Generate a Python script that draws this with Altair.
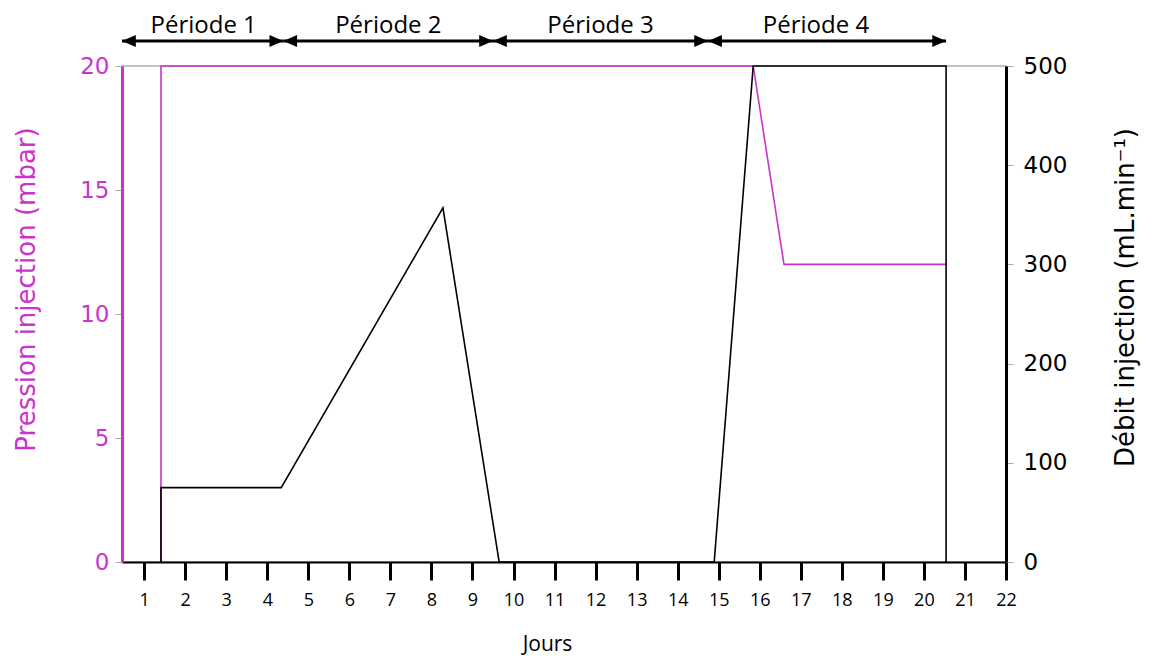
import altair as alt
import pandas as pd

# ---- data ----
days_p = [1.41, 1.41, 15.84, 16.59, 20.54]
pression = [0, 20, 20, 12, 12]

days_d = [1.41, 1.41, 4.34, 8.28, 9.65, 14.89, 15.84, 20.54, 20.54]
debit = [0, 75, 75, 357, 0, 0, 500, 500, 0]

periodes = ["Période 1", "Période 2", "Période 3", "Période 4"]
per_start = [0.46, 4.39, 9.50, 14.74]
per_end = [4.39, 9.50, 14.74, 20.54]
per_label_x = [2.45, 6.95, 12.12, 17.37]

x_ticks = list(range(1, 23))
x_domain = [0.46, 22]
p_ticks = [0, 5, 10, 15, 20]
d_ticks = [0, 100, 200, 300, 400, 500]

MAG = "#CC33CC"

dfp = pd.DataFrame({"jour": days_p, "p": pression, "i": range(len(days_p))})
dfd = pd.DataFrame({"jour": days_d, "d": debit, "i": range(len(days_d))})
dfper = pd.DataFrame({"nom": periodes, "start": per_start, "end": per_end, "lx": per_label_x})

xscale = alt.Scale(domain=x_domain, nice=False, zero=False)
xaxis = alt.Axis(values=x_ticks, title="Jours", grid=False, zindex=1,
                 domainColor="black", domainWidth=2,
                 tickColor="black", tickWidth=3, tickSize=18,
                 labelFont="Open Sans", labelFontSize=18, labelColor="black",
                 labelPadding=11, labelFlush=False,
                 titleFont="Open Sans", titleFontSize=21, titleFontWeight="normal",
                 titleColor="black", titlePadding=24, titleX=425)

press = alt.Chart(dfp).mark_line(color=MAG, strokeWidth=1.6).encode(
    x=alt.X("jour:Q", scale=xscale, axis=xaxis),
    y=alt.Y("p:Q", scale=alt.Scale(domain=[0, 20], nice=False),
            axis=alt.Axis(orient="left", values=p_ticks, grid=False, zindex=1,
                          title="Pression injection (mbar)",
                          domainColor=MAG, domainWidth=3,
                          tickColor="#aaaaaa", tickSize=7, tickWidth=1,
                          labelFont="DejaVu Sans", labelFontSize=23, labelColor=MAG,
                          labelPadding=6,
                          titleFont="DejaVu Sans", titleFontSize=26, titleFontWeight="normal",
                          titleColor=MAG, titlePadding=40, titleY=223)),
    order="i:Q",
)

deb = alt.Chart(dfd).mark_line(color="black", strokeWidth=1.6).encode(
    x=alt.X("jour:Q", scale=xscale, axis=xaxis),
    y=alt.Y("d:Q", scale=alt.Scale(domain=[0, 500], nice=False),
            axis=alt.Axis(orient="right", values=d_ticks, grid=False, zindex=1,
                          title="Débit injection (mL.min⁻¹)",
                          domainColor="black", domainWidth=3,
                          tickColor="#aaaaaa", tickSize=7, tickWidth=1,
                          labelFont="DejaVu Sans", labelFontSize=23, labelColor="black",
                          labelPadding=10,
                          titleFont="DejaVu Sans", titleFontSize=26, titleFontWeight="normal",
                          titleColor="black", titlePadding=46, titleY=231,
                          titleAngle=270, titleBaseline="top")),
    order="i:Q",
)

arrow_right = "M0,0L-2.3,-1L-2.3,1Z"
arrow_left = "M0,0L2.3,-1L2.3,1Z"

rules = alt.Chart(dfper).mark_rule(color="black", strokeWidth=3).encode(
    x=alt.X("start:Q", scale=xscale, axis=xaxis), x2="end:Q", y=alt.value(-25))
head_r = alt.Chart(dfper).mark_point(shape=arrow_right, filled=True, size=144,
                                     color="black", opacity=1).encode(
    x=alt.X("end:Q", scale=xscale, axis=xaxis), y=alt.value(-25))
head_l = alt.Chart(dfper).mark_point(shape=arrow_left, filled=True, size=144,
                                     color="black", opacity=1).encode(
    x=alt.X("start:Q", scale=xscale, axis=xaxis), y=alt.value(-25))
labels = alt.Chart(dfper).mark_text(font="Open Sans", fontSize=24, color="black",
                                    baseline="middle", align="center").encode(
    x=alt.X("lx:Q", scale=xscale, axis=xaxis), y=alt.value(-40), text="nom:N")

chart = alt.layer(press, deb, rules, head_r, head_l, labels).resolve_scale(
    y="independent"
).properties(
    width=884, height=496,
    autosize=alt.AutoSizeParams(type="none"),
    padding={"left": 114, "top": 58, "right": 141, "bottom": 99},
).configure_view(stroke="#b0b0b0", strokeWidth=1.5)

chart.save("out.html", embed_options={"renderer": "svg", "actions": False})
